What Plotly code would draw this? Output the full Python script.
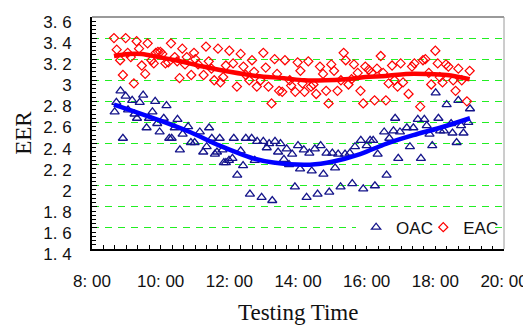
import plotly.graph_objects as go

# ---------------- data ----------------
# testing time in decimal hours, EER values
oac_time = [8.66, 8.71, 8.83, 8.90, 8.98, 9.05, 9.17, 9.24, 9.31, 9.39,
            9.49, 9.59, 9.66, 9.76, 9.84, 9.90, 9.97, 10.09, 10.17, 10.25,
            10.32, 10.41, 10.49, 10.56, 10.64, 10.80, 10.88, 10.99, 11.14, 11.24,
            11.34, 11.41, 11.49, 11.58, 11.64, 11.72, 11.84, 11.80, 11.90, 11.99,
            12.09, 12.13, 12.23, 12.33, 12.40, 12.48, 12.60, 12.65, 12.74, 12.81,
            12.94, 12.99, 13.09, 13.16, 13.25, 13.33, 13.42, 13.49, 13.59, 13.67,
            13.74, 13.83, 13.91, 14.00, 14.06, 14.17, 14.25, 14.33, 14.40, 14.49,
            14.57, 14.66, 14.74, 14.83, 14.91, 15.00, 15.08, 15.17, 15.24, 15.37,
            15.51, 15.66, 15.83, 16.00, 16.10, 16.19, 16.32, 16.51, 16.58, 16.66,
            16.78, 16.83, 16.92, 16.97, 17.17, 17.26, 17.36, 17.49, 17.58, 17.68,
            17.75, 17.91, 18.01, 18.09, 18.14, 18.25, 18.33, 18.46, 18.50, 18.62,
            18.67, 18.75, 18.82, 18.96, 19.01, 15.58, 15.90, 16.24, 17.83]
oac_eer = [2.70, 2.79, 2.90, 2.45, 2.85, 2.72, 2.81, 2.68, 2.64, 2.79,
           2.86, 2.55, 2.64, 2.70, 2.80, 2.59, 2.51, 2.64, 2.76, 2.45,
           2.45, 2.55, 2.63, 2.34, 2.49, 2.56, 2.41, 2.41, 2.51, 2.32,
           2.37, 2.55, 2.45, 2.30, 2.32, 2.45, 2.22, 2.34, 2.22, 2.24,
           2.26, 2.45, 2.10, 2.33, 2.19, 2.45, 1.92, 2.45, 2.24, 2.42,
           1.89, 2.42, 2.36, 2.40, 1.86, 2.42, 2.32, 2.40, 2.25, 2.35,
           2.20, 2.30, 1.99, 2.38, 2.16, 2.34, 1.89, 2.31, 2.14, 2.35,
           1.92, 2.38, 2.11, 2.31, 1.94, 2.31, 2.17, 2.30, 1.99, 2.30,
           2.31, 2.37, 2.43, 2.38, 2.43, 2.43, 2.30, 2.51, 2.10, 2.45,
           2.52, 2.64, 2.26, 2.51, 2.55, 2.37, 2.55, 2.63, 2.26, 2.63,
           2.57, 2.38, 2.88, 2.64, 2.52, 2.52, 2.77, 2.59, 2.50, 2.41,
           2.81, 2.57, 2.50, 2.60, 2.73, 2.02, 1.97, 2.00, 2.49]

eac_time = [8.64, 8.72, 8.82, 8.90, 8.98, 9.04, 9.13, 9.22, 9.30, 9.37,
            9.45, 9.55, 9.62, 9.73, 9.80, 9.86, 9.92, 9.99, 10.05, 10.14,
            10.22, 10.30, 10.41, 10.48, 10.55, 10.63, 10.71, 10.76, 10.89, 10.97,
            11.01, 11.09, 11.25, 11.32, 11.40, 11.48, 11.56, 11.67, 11.74, 11.82,
            11.90, 12.00, 12.11, 12.22, 12.33, 12.41, 12.48, 12.58, 12.66, 12.72,
            12.80, 12.91, 12.99, 13.06, 13.14, 13.23, 13.32, 13.39, 13.45, 13.54,
            13.62, 13.76, 13.80, 13.92, 13.99, 14.07, 14.13, 14.19, 14.30, 14.38,
            14.45, 14.53, 14.64, 14.73, 14.82, 14.89, 14.97, 15.05, 15.15, 15.25,
            15.33, 15.39, 15.47, 15.56, 15.63, 15.74, 15.82, 15.90, 15.96, 16.06,
            16.14, 16.23, 16.30, 16.41, 16.48, 16.56, 16.64, 16.74, 16.81, 16.90,
            16.99, 17.06, 17.22, 17.32, 17.39, 17.56, 17.64, 17.71, 17.81, 17.88,
            18.00, 18.07, 18.13, 18.21, 18.31, 18.38, 18.52, 18.59, 18.67, 18.77,
            18.92, 19.00]
eac_eer = [3.40, 3.29, 3.19, 3.05, 3.40, 3.26, 3.22, 2.97, 3.37, 3.30,
           3.14, 3.06, 3.35, 3.19, 3.16, 3.26, 3.27, 3.27, 3.25, 3.16,
           3.17, 3.35, 3.22, 3.18, 3.02, 3.30, 3.15, 3.22, 3.05, 3.26,
           3.20, 3.15, 3.05, 3.32, 3.18, 3.11, 3.00, 3.30, 2.98, 3.03,
           3.14, 3.28, 3.16, 2.94, 3.25, 3.13, 3.05, 3.00, 3.19, 3.08,
           2.94, 3.00, 3.26, 3.12, 2.94, 2.78, 3.20, 3.06, 2.90, 2.89,
           3.19, 3.00, 2.95, 2.89, 3.17, 3.09, 2.97, 2.89, 3.18, 2.94,
           2.96, 2.87, 3.13, 3.06, 2.90, 2.78, 3.15, 3.09, 2.90, 3.00,
           3.26, 3.19, 2.96, 3.01, 3.15, 3.07, 2.90, 2.78, 3.13, 3.10,
           3.07, 2.81, 3.11, 3.23, 3.07, 2.81, 2.97, 3.14, 3.00, 2.94,
           3.16, 2.98, 2.87, 3.13, 3.16, 2.75, 3.19, 3.20, 3.07, 2.96,
           3.28, 3.16, 3.03, 2.98, 3.15, 3.13, 3.00, 2.90, 3.11, 3.00,
           2.80, 3.09]

# trend curves
oac_trend_time = [8.64, 9.97, 10.85, 11.72, 12.69, 13.28, 14.35, 15.03, 15.81, 16.58, 17.36, 18.14, 19.01]
oac_trend_eer = [2.77, 2.62, 2.51, 2.38, 2.26, 2.22, 2.20, 2.23, 2.30, 2.40, 2.48, 2.55, 2.64]

eac_trend_time = [8.64, 9.06, 9.45, 9.94, 10.44, 11.23, 12.01, 12.80, 13.59, 14.18, 14.78, 15.37, 15.96, 16.55, 17.14, 17.73, 18.33, 19.00]
eac_trend_eer = [3.23, 3.25, 3.25, 3.22, 3.19, 3.13, 3.08, 3.04, 3.02, 3.00, 3.00, 3.01, 3.03, 3.04, 3.06, 3.06, 3.05, 3.01]

x_tick_vals = [8, 10, 12, 14, 16, 18, 20]
x_tick_text = ["8: 00", "10: 00", "12: 00", "14: 00", "16: 00", "18: 00", "20: 00"]
y_tick_vals = [1.4, 1.6, 1.8, 2.0, 2.2, 2.4, 2.6, 2.8, 3.0, 3.2, 3.4, 3.6]
y_tick_text = ["1. 4", "1. 6", "1. 8", "2", "2. 2", "2. 4", "2. 6", "2. 8", "3", "3. 2", "3. 4", "3. 6"]

# ---------------- figure ----------------
SANS = "Liberation Sans, Arial, sans-serif"
SERIF = "Liberation Serif, Times New Roman, serif"

fig = go.Figure()
fig.add_trace(go.Scatter(
    x=oac_time, y=oac_eer, mode="markers", name="OAC", legend="legend",
    marker=dict(symbol="triangle-up-open", size=8, color="#14148a", line=dict(width=1.3, color="#14148a")),
))
fig.add_trace(go.Scatter(
    x=eac_time, y=eac_eer, mode="markers", name="EAC", legend="legend2",
    marker=dict(symbol="diamond-open", size=7, color="#ff0000", line=dict(width=1.2, color="#ff0000")),
))
fig.add_trace(go.Scatter(
    x=oac_trend_time, y=oac_trend_eer, mode="lines", showlegend=False,
    line=dict(color="#0000ff", width=4.5, shape="spline", smoothing=1.0),
))
fig.add_trace(go.Scatter(
    x=eac_trend_time, y=eac_trend_eer, mode="lines", showlegend=False,
    line=dict(color="#ff0000", width=4.5, shape="spline", smoothing=1.0),
))

fig.update_xaxes(
    range=[8, 20], tickmode="array", tickvals=x_tick_vals, ticktext=x_tick_text,
    showgrid=False, zeroline=False, automargin=False,
    showline=True, linecolor="#000000", linewidth=2,
    ticks="inside", ticklen=4, tickcolor="#000000", tickwidth=1,
    minor=dict(dtick=1/3, tick0=8, ticks="inside", ticklen=4, tickcolor="#000000", showgrid=False),
    tickfont=dict(family=SANS, size=17, color="#111111"),
    ticklabelstandoff=16,
)
fig.update_yaxes(
    range=[1.4, 3.6], tickmode="array", tickvals=y_tick_vals, ticktext=y_tick_text,
    showgrid=True, gridcolor="#22ee22", gridwidth=1, griddash="7px,6px",
    zeroline=False, automargin=False,
    showline=True, linecolor="#000000", linewidth=2,
    ticks="inside", ticklen=5, tickcolor="#000000", tickwidth=1,
    minor=dict(dtick=0.04, tick0=1.4, ticks="inside", ticklen=4, tickcolor="#000000", showgrid=False),
    tickfont=dict(family=SANS, size=17, color="#111111"),
    ticklabelstandoff=15, ticklabelshift=5,
)

legend_style = dict(
    orientation="h", yanchor="middle", xanchor="left", borderwidth=0,
    font=dict(family=SANS, size=17, color="#111111"),
    itemwidth=30,
)

# page body has an 8px default margin -> figure is 523x317 so it fills the 531x325 window
fig.update_layout(
    width=523, height=317,
    margin=dict(l=84, r=27, t=9, b=76, autoexpand=False),
    paper_bgcolor="white", plot_bgcolor="white",
    showlegend=True,
    legend=dict(x=0.641, y=0.092, bgcolor="white", entrywidth=92, entrywidthmode="pixels", **legend_style),
    legend2=dict(x=0.804, y=0.092, bgcolor="rgba(0,0,0,0)", **legend_style),
    shapes=[
        dict(type="line", xref="paper", yref="paper", x0=0, x1=1, y0=1, y1=1,
             line=dict(color="#9a9a9a", width=2), layer="below"),
        dict(type="line", xref="paper", yref="paper", x0=1, x1=1, y0=0, y1=1,
             line=dict(color="#9a9a9a", width=1), layer="below"),
    ],
    annotations=[
        dict(text="EER", xref="paper", yref="paper", x=-0.168, y=0.5,
             xanchor="center", yanchor="middle", textangle=-90, showarrow=False,
             font=dict(family=SERIF, size=23, color="#111111")),
        dict(text="Testing Time", xref="paper", yref="paper", x=0.5, y=-0.275,
             xanchor="center", yanchor="middle", showarrow=False,
             font=dict(family=SERIF, size=23, color="#111111")),
    ],
)

fig.write_html("out.html")
